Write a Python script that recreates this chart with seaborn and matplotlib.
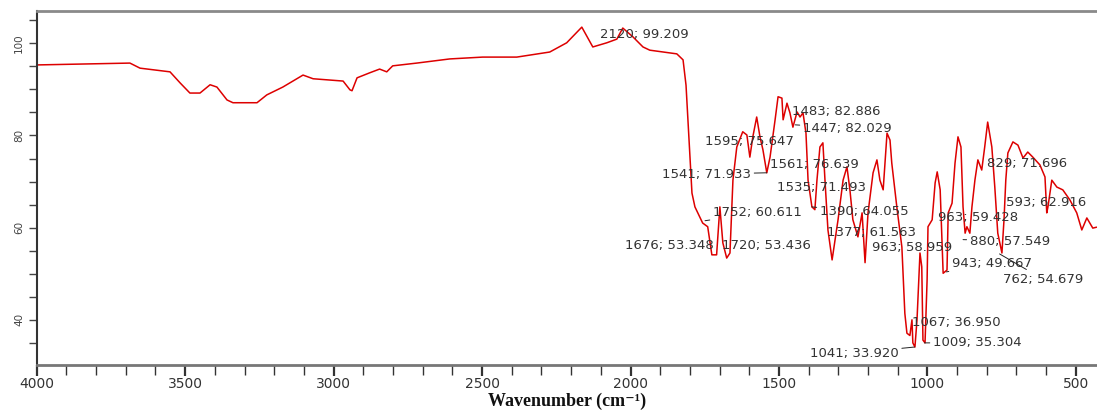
import matplotlib
matplotlib.use("Agg")
import matplotlib.pyplot as plt
import seaborn as sns
import pandas as pd
from matplotlib.ticker import MultipleLocator

# ---- spectrum (wavenumber, cm-1 ; transmittance, %) ----
wavenumber = [3999, 3686, 3652, 3551, 3517, 3484, 3450, 3416, 3393, 3359,
              3339, 3258, 3225, 3171, 3103, 3069, 2968, 2945, 2938, 2921,
              2878, 2845, 2821, 2801, 2720, 2609, 2498, 2383, 2272, 2215,
              2164, 2127, 2080, 2046, 2026, 1992, 1958, 1935, 1844, 1823,
              1813, 1803, 1793, 1783, 1757, 1740, 1726, 1710, 1699, 1689,
              1676, 1665, 1655, 1642, 1622, 1608, 1598, 1588, 1575, 1564,
              1554, 1541, 1530, 1513, 1503, 1490, 1486, 1473, 1463, 1453,
              1439, 1429, 1419, 1409, 1402, 1389, 1379, 1372, 1362, 1352,
              1345, 1335, 1321, 1311, 1301, 1284, 1271, 1261, 1251, 1234,
              1220, 1210, 1200, 1183, 1170, 1160, 1149, 1136, 1126, 1120,
              1103, 1086, 1076, 1069, 1059, 1052, 1049, 1042, 1035, 1025,
              1019, 1015, 1008, 1001, 998, 984, 974, 967, 957, 951,
              947, 934, 930, 917, 907, 897, 887, 880, 873, 867,
              857, 850, 840, 830, 817, 807, 797, 783, 773, 763,
              749, 742, 736, 729, 712, 695, 678, 662, 645, 621,
              604, 598, 594, 581, 564, 544, 520, 497, 480, 463,
              443, 430]
transmittance = [95.3, 95.7, 94.6, 93.8, 91.4, 89.2, 89.2, 91.0, 90.5, 87.7,
                 87.1, 87.1, 88.8, 90.5, 93.1, 92.3, 91.8, 89.9, 89.7, 92.5,
                 93.6, 94.4, 93.8, 95.1, 95.7, 96.6, 97.0, 97.0, 98.1, 100.1,
                 103.5, 99.2, 100.1, 100.9, 103.3, 101.4, 99.2, 98.5, 97.7, 96.4,
                 90.9, 79.0, 67.5, 64.5, 61.0, 60.2, 54.1, 54.1, 64.5, 56.7,
                 53.4, 54.5, 70.3, 77.5, 80.8, 80.1, 75.3, 79.7, 84.0, 79.7,
                 76.9, 71.9, 75.3, 83.4, 88.4, 88.1, 83.4, 87.0, 84.9, 81.8,
                 85.1, 84.0, 84.9, 80.5, 70.3, 64.5, 63.9, 70.3, 77.5, 78.4,
                 70.3, 59.5, 53.0, 57.3, 61.7, 70.3, 73.2, 68.2, 61.7, 58.0,
                 63.2, 52.4, 63.2, 71.9, 74.7, 70.3, 68.2, 80.5, 79.0, 74.0,
                 64.5, 55.8, 41.4, 37.1, 36.6, 40.0, 35.0, 34.1, 40.0, 54.5,
                 51.5, 35.6, 35.0, 48.7, 60.2, 61.7, 69.7, 72.1, 68.2, 57.3,
                 50.1, 50.8, 63.2, 65.3, 74.0, 79.7, 77.5, 64.5, 58.8, 60.2,
                 58.8, 64.5, 70.3, 74.7, 72.5, 77.5, 82.9, 77.5, 68.8, 58.8,
                 54.5, 61.7, 70.3, 76.2, 78.6, 77.9, 75.1, 76.4, 75.3, 73.6,
                 71.0, 63.2, 64.5, 70.3, 68.8, 68.2, 66.0, 63.2, 59.5, 62.1,
                 59.9, 60.1]

# ---- peak labels ----
peak_labels = ["2120; 99.209", "1483; 82.886", "1447; 82.029", "1595; 75.647",
               "1561; 76.639", "1541; 71.933", "1535; 71.493", "1752; 60.611",
               "1390; 64.055", "1377; 61.563", "1676; 53.348", "1720; 53.436",
               "963; 58.959", "963; 59.428", "880; 57.549", "829; 71.696",
               "593; 62.916", "943; 49.667", "762; 54.679", "1067; 36.950",
               "1009; 35.304", "1041; 33.920"]
label_wn = [2103, 1456, 1419, 1749, 1530, 1894, 1507, 1722, 1362, 1338, 2019,
            1692, 1187, 964, 857, 799, 735, 917, 745, 1052, 981, 1396]
label_t = [102.0, 85.3, 81.6, 78.6, 73.8, 71.6, 68.8, 63.2, 63.4, 58.9, 56.2,
           56.2, 55.6, 62.1, 57.1, 74.0, 65.4, 52.3, 48.8, 39.5, 35.0, 32.8]

# leader lines: label index -> point on spectrum
leader_index = [5, 2, 21, 20, 14, 17, 18, 7, 8]
leader_wn = [1541, 1445, 1043, 1010, 880, 936, 757, 1749, 1389]
leader_t = [71.9, 82.3, 34.1, 35.0, 57.4, 50.4, 54.3, 61.5, 64.5]

x_ticks = [4000, 3500, 3000, 2500, 2000, 1500, 1000, 500]
y_ticks = [40, 60, 80, 100]

sns.set_style("ticks")
plt.rcParams['font.family'] = ['DejaVu Sans']

W, H = 1097, 413
fig = plt.figure(figsize=(W / 100, H / 100), dpi=100)
ax = fig.add_axes([36.7 / W, 48 / H, 1073.3 / W, 354 / H])

df = pd.DataFrame({"wn": wavenumber, "T": transmittance})
sns.lineplot(data=df, x="wn", y="T", sort=False, estimator=None,
             color="#dd0000", lw=1.1, ax=ax)

ax.set_xlim(4000, 385)
ax.set_ylim(30.2, 107.0)

ax.set_xticks(x_ticks)
ax.set_xticklabels([str(v) for v in x_ticks])
ax.xaxis.set_minor_locator(MultipleLocator(100))
ax.set_yticks(y_ticks)
ax.set_yticklabels([str(v) for v in y_ticks])
ax.yaxis.set_minor_locator(MultipleLocator(5))

ax.tick_params(axis="x", which="both", direction="out", colors="#333333",
               labelsize=10, pad=1)
ax.tick_params(axis="x", which="major", length=8, width=1.6)
ax.tick_params(axis="x", which="minor", length=7, width=1.0)
ax.tick_params(axis="y", which="both", direction="out", colors="#444444",
               labelsize=7.5, labelrotation=90, pad=3)
ax.tick_params(axis="y", which="major", length=6, width=1.0)
ax.tick_params(axis="y", which="minor", length=6, width=1.0)
for lab in ax.get_yticklabels():
    lab.set_va("center")

ax.spines["top"].set_color("#8a8a8a")
ax.spines["top"].set_linewidth(2.0)
ax.spines["bottom"].set_color("#777777")
ax.spines["bottom"].set_linewidth(2.0)
ax.spines["left"].set_color("#333333")
ax.spines["left"].set_linewidth(1.5)
ax.spines["right"].set_visible(False)

ax.set_xlabel("")
ax.set_ylabel("")

for i, (txt, xw, yt) in enumerate(zip(peak_labels, label_wn, label_t)):
    if i in leader_index:
        k = leader_index.index(i)
        ax.annotate(txt, xy=(leader_wn[k], leader_t[k]), xytext=(xw, yt),
                    ha="left", va="center", fontsize=9.5, color="#333333",
                    arrowprops=dict(arrowstyle="-", lw=0.7, color="#222222",
                                    shrinkA=0, shrinkB=0))
    else:
        ax.text(xw, yt, txt, ha="left", va="center", fontsize=9.5,
                color="#333333")

fig.text(567 / W, 1 - 401 / H, "Wavenumber (cm⁻¹)", ha="center", va="center",
         fontsize=13, fontweight="bold",
         family=["Liberation Serif", "DejaVu Serif"], color="#111111")

fig.savefig("out.png", dpi=100)
